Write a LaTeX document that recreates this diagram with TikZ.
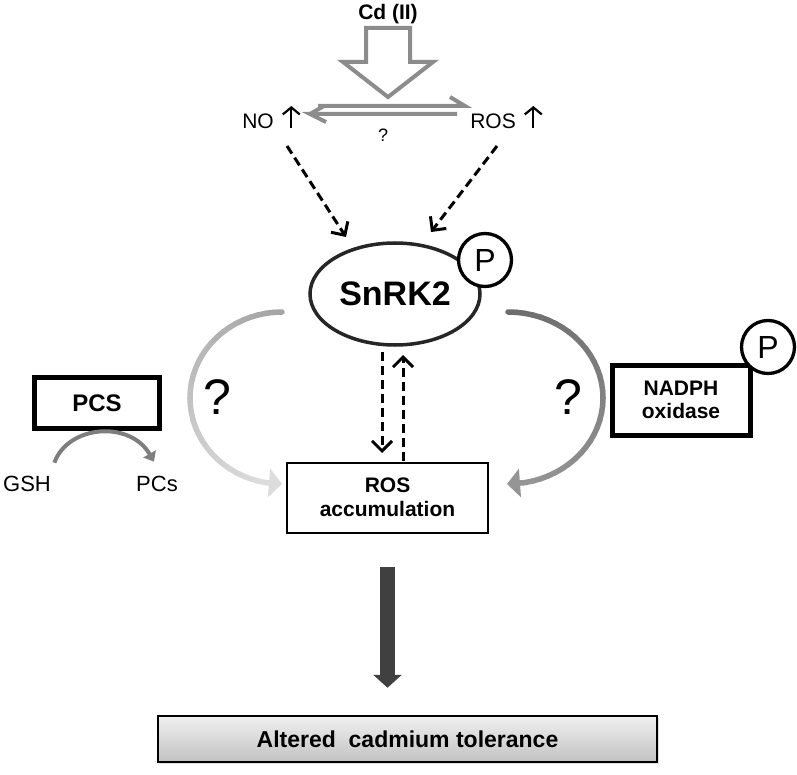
\documentclass[tikz,border=0pt]{standalone}
\usepackage{fontspec}
\setmainfont{Liberation Sans}
\usetikzlibrary{calc, arrows.meta, shapes.geometric, shadows}
\newcommand\fsz[1]{\fontsize{#1}{#1}\selectfont}
\definecolor{frameg}{HTML}{8C8C8C}
\definecolor{arcLa}{HTML}{A4A4A4}
\definecolor{arcLb}{HTML}{DCDCDC}
\definecolor{arcRa}{HTML}{6C6C6C}
\definecolor{arcRb}{HTML}{959595}
\definecolor{darkg}{HTML}{404040}
\tikzset{
  dasharrow/.style={line width=3pt, dash pattern=on 9pt off 5pt, -{Straight Barb[length=10pt,width=20pt]}},
  uparrow/.style={line width=2.2pt, -{Straight Barb[length=7pt,width=17pt]}},
  arcline/.style={line width=5.5pt, line cap=round},
  thickbox/.style={draw, line width=5pt, font=\bfseries\fsz{21}, align=center},
  pcircle/.style={circle, draw, line width=3.3pt, fill=white, minimum size=53pt, inner sep=0pt, font=\fsz{32}}
}
\begin{document}
\begin{tikzpicture}[x=1pt, y=-1pt]
\useasboundingbox (0,0) rectangle (797,775);

% Cd input and the NO / ROS pair
\node[font=\bfseries\fsz{21}] (cd) at (388,14) {Cd (II)};
\draw[frameg, line width=4pt, line join=miter] (366,28) -- (410,28) -- (410,62) -- (433,62) -- (388,97) -- (343,62) -- (366,62) -- cycle;
\draw[frameg, line width=4pt] (318,106) -- (465,106) -- (450,97);
\draw[frameg, line width=4pt] (457,114) -- (310,114) -- (326,122);
\draw[frameg, line width=4pt] (310,114) -- (324,106);
\node[font=\fsz{18}] (qs) at (383,135) {?};
\node[font=\fsz{21}] (no) at (258,121) {NO};
\node[font=\fsz{21}] (ros) at (493,121) {ROS};
\draw[uparrow] ([xshift=14pt,yshift=-7pt]no.east) -- ++(0,-22);
\draw[uparrow] ([xshift=14pt,yshift=-7pt]ros.east) -- ++(0,-22);

% SnRK2
\node[ellipse, draw=black!85, line width=3.5pt, minimum width=170pt, minimum height=102pt, font=\bfseries\fsz{34}] (snrk) at (395,294) {SnRK2};
\node[pcircle] (p1) at (485,260) {P};
\coordinate (noA) at (287,146);
\coordinate (noB) at (346,237);
\coordinate (rosA) at (497,146);
\coordinate (rosB) at (431,232);
\draw[dasharrow] (noA) -- (noB);
\draw[dasharrow] (rosA) -- (rosB);

% ROS accumulation
\node[draw, line width=2pt, minimum width=201pt, minimum height=70pt, align=center, font=\bfseries\fsz{21}] (rosacc) at (387.5,497.5) {ROS\\[3pt]accumulation};
\draw[dasharrow] (382,352) -- (382,453);
\draw[dasharrow] (403,461) -- (403,355);

% side arcs
\foreach \i in {0,...,33}{
  \pgfmathsetmacro\ta{5*\i}
  \pgfmathsetmacro\tb{5*\i+5}
  \pgfmathtruncatemacro\mix{100-\i*3}
  \draw[arcline, arcLa!\mix!arcLb] ({282-92*sin(\ta)},{398-86*cos(\ta)}) -- ({282-92*sin(\tb)},{398-86*cos(\tb)});
  \draw[arcline, arcRa!\mix!arcRb] ({508+95*sin(\ta)},{398-86*cos(\ta)}) -- ({508+95*sin(\tb)},{398-86*cos(\tb)});
}
\draw[line width=5.5pt, arcLb, -{Triangle[width=28pt,length=13pt]}] ({282-92*sin(170)},{398-86*cos(170)}) -- (282,484);
\draw[line width=5.5pt, arcRb, -{Triangle[width=28pt,length=13pt]}] ({508+95*sin(170)},{398-86*cos(170)}) -- (507,484);
\node[font=\fsz{50}] (ql) at (217,397) {?};
\node[font=\fsz{50}] (qr) at (568,397) {?};

% PCS
\node[thickbox, font=\bfseries\fsz{24}, minimum width=125pt, minimum height=51pt] (pcs) at (97,403) {PCS};
\node[font=\fsz{22}] (gsh) at (27,484) {GSH};
\node[font=\fsz{22}] (pcsl) at (157,484) {PCs};
\draw[line width=4pt, frameg!90!black, -{Triangle[width=14pt,length=9pt]}] ([yshift=10pt]gsh.north east) .. controls (68,425) and (130,420) .. ([xshift=-3pt,yshift=11pt]pcsl.north);

% NADPH oxidase
\node[thickbox, minimum width=138pt, minimum height=70pt] (nadph) at (681,400) {NADPH\\[2pt]oxidase};
\node[pcircle] (p2) at (768,347) {P};

% outcome
\node[draw, line width=2.5pt, minimum width=499pt, minimum height=46pt, top color=gray!12, bottom color=gray!48, drop shadow={shadow xshift=2pt, shadow yshift=-2pt, opacity=0.25}, font=\bfseries\fsz{23}] (tol) at (407.5,739) {Altered\ \ cadmium tolerance};
\draw[darkg, line width=15pt, -{Triangle[width=28pt,length=13pt]}] ([yshift=-33pt]rosacc.south) -- ([yshift=27pt]tol.north -| rosacc.south);
\end{tikzpicture}
\end{document}
